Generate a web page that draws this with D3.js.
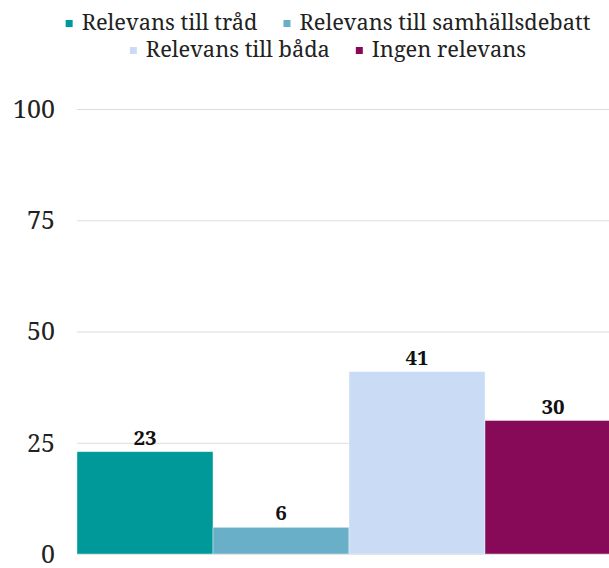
<!DOCTYPE html>
<html>
<head>
<meta charset="utf-8">
<script src="https://cdn.jsdelivr.net/npm/d3@7"></script>
<style>
  body { margin: 0; background: #fff; }
  text { font-family: "Noto Serif", serif; }
</style>
</head>
<body>
<div id="chart"></div>
<script>
// data
var categories = ["Relevans till tråd", "Relevans till samhällsdebatt", "Relevans till båda", "Ingen relevans"];
var values = [23, 6, 41, 30];
var colors = ["#00999a", "#6aafc8", "#c9dbf5", "#870a58"];
var yTicks = [0, 25, 50, 75, 100];

var width = 609, height = 568;

var svg = d3.select("#chart")
    .append("svg")
    .attr("width", width)
    .attr("height", height);

var x = d3.scaleBand()
    .domain(categories)
    .range([77, 621])
    .padding(0);

var y = d3.scaleLinear()
    .domain([0, 100])
    .range([554, 109]);

// gridlines
svg.append("g")
    .selectAll("line")
    .data(yTicks)
    .enter()
    .append("line")
    .attr("x1", 77)
    .attr("x2", width)
    .attr("y1", function (d) { return y(d) + 0.5; })
    .attr("y2", function (d) { return y(d) + 0.5; })
    .attr("stroke", "#dcdcdc")
    .attr("stroke-width", 1);

// y axis labels
var yAxis = svg.append("g")
    .attr("transform", "translate(55,0)")
    .call(d3.axisLeft(y).tickValues(yTicks).tickSize(0).tickPadding(0));
yAxis.select(".domain").remove();
yAxis.selectAll("text")
    .attr("font-family", "'Noto Serif', serif")
    .attr("font-size", 25)
    .attr("dy", "0.33em")
    .attr("fill", "#222");

// bars
svg.append("g")
    .selectAll("rect")
    .data(values)
    .enter()
    .append("rect")
    .attr("x", function (d, i) { return x(categories[i]); })
    .attr("y", function (d) { return y(d); })
    .attr("width", x.bandwidth())
    .attr("height", function (d) { return y(0) - y(d); })
    .attr("fill", function (d, i) { return colors[i]; })
    .attr("stroke", "#ffffff")
    .attr("stroke-opacity", 0.5)
    .attr("stroke-width", 0.8);

// value labels
svg.append("g")
    .selectAll("text")
    .data(values)
    .enter()
    .append("text")
    .attr("x", function (d, i) { return x(categories[i]) + x.bandwidth() / 2; })
    .attr("y", function (d) { return y(d) - 7; })
    .attr("text-anchor", "middle")
    .attr("font-size", 20.5)
    .attr("font-weight", "bold")
    .attr("fill", "#111")
    .text(function (d) { return d; });

// legend, two centred rows
var legendRows = [[0, 1], [2, 3]];
var legendY = [30, 57];
var legendCenter = 328;
var legendGap = 26;
legendRows.forEach(function (row, r) {
    var g = svg.append("g");
    var cursor = 0;
    row.forEach(function (idx, k) {
        var item = g.append("g").attr("transform", "translate(" + cursor + ",0)");
        item.append("rect")
            .attr("x", 0)
            .attr("y", -10)
            .attr("width", 7)
            .attr("height", 7)
            .attr("fill", colors[idx]);
        var t = item.append("text")
            .attr("x", 16)
            .attr("y", 0)
            .attr("font-size", 21.8)
            .attr("fill", "#222")
            .text(categories[idx]);
        cursor += 16 + t.node().getComputedTextLength() + legendGap;
    });
    var total = cursor - legendGap;
    g.attr("transform", "translate(" + (legendCenter - total / 2) + "," + legendY[r] + ")");
});
</script>
</body>
</html>
